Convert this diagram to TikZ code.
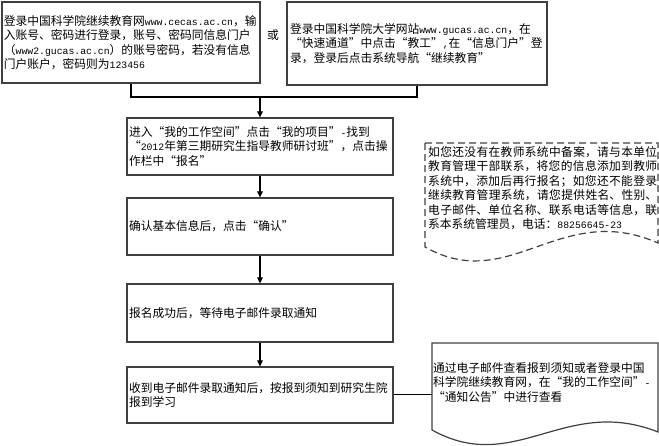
\documentclass[tikz,border=0pt]{standalone}
\usepackage{fontspec}
\setmainfont{Noto Sans CJK SC}
\newfontfamily\monof{Liberation Mono}
\usetikzlibrary{arrows.meta}
\newcommand{\lm}[1]{{\monof\fontsize{9.79}{14.5}\selectfont #1}}
\tikzset{
  box/.style={draw=black!75, line width=1.2pt, align=left, inner xsep=2pt, inner ysep=0pt,
    font=\fontsize{11.75}{14.5}\selectfont, anchor=center},
  conn/.style={draw=black, line width=1.2pt},
  arr/.style={conn, -{Triangle[length=6pt,width=5.5pt]}},
  docline/.style={draw=black!75, line width=1.2pt},
  doctext/.style={align=left, inner xsep=2pt, inner ysep=0pt, anchor=west,
    font=\fontsize{11.75}{14.5}\selectfont},
}
\begin{document}
\begin{tikzpicture}[x=1pt,y=-1pt]
\useasboundingbox (0,0) rectangle (659,446);

\node[box, minimum width=258pt, minimum height=81pt, text width=254pt] (a) at (131,42.5)
 {登录中国科学院继续教育网\lm{www.cecas.ac.cn}，输\\入账号、密码进行登录，账号、密码同信息门户\\（\lm{www2.gucas.ac.cn}）的账号密码，若没有信息\\门户账户，密码则为\lm{123456}};
\node[font=\fontsize{11.75}{14.5}\selectfont] (or) at (273,35) {或};
\node[box, inner xsep=3pt, minimum width=260pt, minimum height=83pt, text width=254pt] (b) at (417,43.5)
 {登录中国科学院大学网站\lm{www.gucas.ac.cn}，在\\“快速通道”中点击“教工”\lm{,}在“信息门户”登\\录，登录后点击系统导航“继续教育”};

\node[box, minimum width=266pt, minimum height=57pt, text width=262pt] (c) at (260,146.5)
 {进入“我的工作空间”点击“我的项目”\lm{-}找到\\“\lm{2012}年第三期研究生指导教师研讨班”，点击操\\作栏中“报名”};
\node[box, minimum width=266pt, minimum height=57pt, text width=262pt] (d) at (260,226.5)
 {确认基本信息后，点击“确认”};
\node[box, minimum width=266pt, minimum height=58pt, text width=262pt] (e) at (260,313)
 {报名成功后，等待电子邮件录取通知};
\node[box, minimum width=266pt, minimum height=56pt, text width=262pt] (f) at (260,395)
 {收到电子邮件录取通知后，按报到须知到研究生院\\报到学习};

\coordinate (j) at (260,97);
\draw[conn] (a.south) |- (j);
\draw[conn] (b.south) |- (j);
\draw[arr] (j) -- (c.north);
\draw[arr] (c.south) -- (d.north);
\draw[arr] (d.south) -- (e.north);
\draw[arr] (e.south) -- (f.north);

% dashed document
\draw[docline, dash pattern=on 7pt off 4pt] (425,143) -- (658,143) -- (658,243)
  .. controls (560,200) and (510,295) .. (425,247) -- cycle;
\node[doctext, text width=229pt, align=justify] (n1) at (426,188)
 {\XeTeXlinebreaklocale "zh"\XeTeXlinebreakskip=0pt plus 4pt\XeTeXlinebreakpenalty=0
 如您还没有在教师系统中备案，请与本单位\linebreak 教育管理干部联系，将您的信息添加到教师\linebreak 系统中，添加后再行报名；如您还不能登录\linebreak 继续教育管理系统，请您提供姓名、性别、\linebreak 电子邮件、单位名称、联系电话等信息，联\linebreak 系本系统管理员，电话：\lm{88256645-23}};

% second document
\draw[docline] (432,343) -- (658,343) -- (658,432)
  .. controls (565,395) and (515,476) .. (432,430) -- cycle;
\node[doctext, text width=222pt] (n2) at (431,382.5)
 {通过电子邮件查看报到须知或者登录中国\\科学院继续教育网，在“我的工作空间”\lm{-}\\“通知公告”中进行查看};
\coordinate (d2) at (432,395);
\draw[conn, line width=1pt] (f.east) -- (d2);
\end{tikzpicture}
\end{document}
